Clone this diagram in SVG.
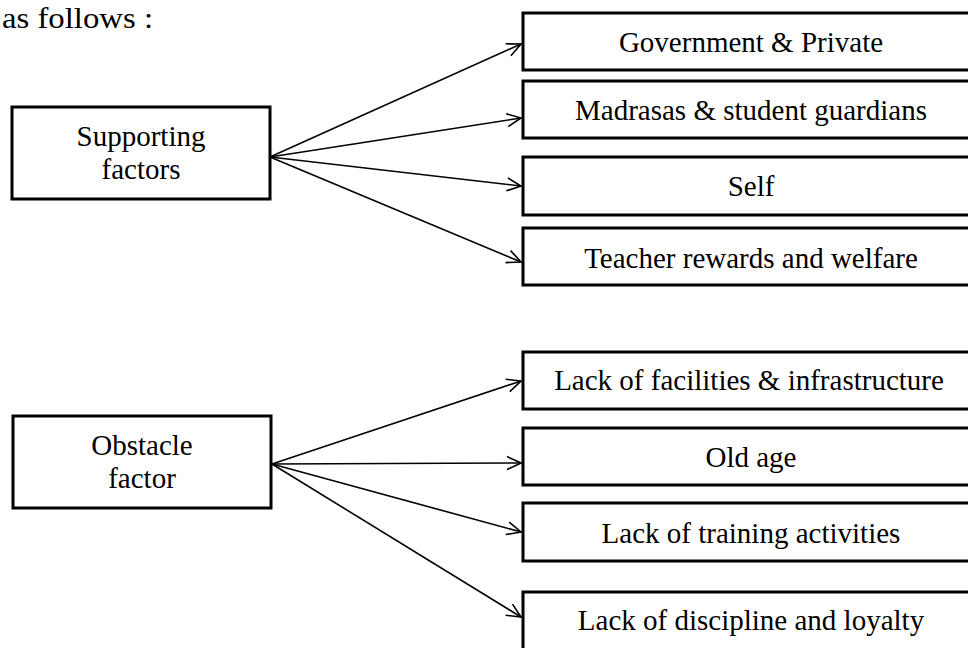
<svg xmlns="http://www.w3.org/2000/svg" width="968" height="648" viewBox="0 0 968 648">
  <style>
    .box { fill: #fff; stroke: #000; stroke-width: 3; }
    .lbl { font-family: "Liberation Serif", "Times New Roman", serif; font-size: 29px; fill: #000; text-anchor: middle; }
    .lead { font-family: "Liberation Serif", "Times New Roman", serif; font-size: 30px; fill: #000; }
    .conn { fill: none; stroke: #000; stroke-width: 1.6; marker-end: url(#arr); }
  </style>
  <defs>
    <marker id="arr" viewBox="-16 -8 17 16" refX="0" refY="0" markerWidth="17" markerHeight="16" orient="auto" markerUnits="userSpaceOnUse">
      <path d="M-14,-6.5 L0,0 L-14,6.5" fill="none" stroke="#000" stroke-width="1.6"/>
    </marker>
  </defs>
  <rect width="968" height="648" fill="#fff"/>

  <text class="lead" x="153" y="28" text-anchor="end" textLength="151" lengthAdjust="spacingAndGlyphs">as follows :</text>

  <!-- connectors -->
  <g id="connectors">
    <line class="conn" x1="270" y1="157" x2="521" y2="44"/>
    <line class="conn" x1="270" y1="157" x2="521" y2="118"/>
    <line class="conn" x1="270" y1="157" x2="521" y2="186"/>
    <line class="conn" x1="270" y1="157" x2="521" y2="262"/>
    <line class="conn" x1="272" y1="464" x2="521" y2="381"/>
    <line class="conn" x1="272" y1="464" x2="521" y2="463"/>
    <line class="conn" x1="272" y1="464" x2="521" y2="532"/>
    <line class="conn" x1="272" y1="464" x2="521" y2="617"/>
  </g>

  <!-- source nodes -->
  <g id="supporting">
    <rect class="box" x="12" y="107" width="258" height="92"/>
    <text class="lbl" x="141" y="146">Supporting</text>
    <text class="lbl" x="141" y="179">factors</text>
  </g>
  <g id="obstacle">
    <rect class="box" x="13" y="416" width="258" height="92"/>
    <text class="lbl" x="142" y="455">Obstacle</text>
    <text class="lbl" x="142" y="488">factor</text>
  </g>

  <!-- supporting factor targets -->
  <g id="gov-private">
    <rect class="box" x="523" y="13" width="470" height="57"/>
    <text class="lbl" x="751" y="52">Government &amp; Private</text>
  </g>
  <g id="madrasas">
    <rect class="box" x="523" y="81" width="470" height="57"/>
    <text class="lbl" x="751" y="120">Madrasas &amp; student guardians</text>
  </g>
  <g id="self">
    <rect class="box" x="523" y="157" width="470" height="58"/>
    <text class="lbl" x="751" y="196">Self</text>
  </g>
  <g id="teacher-rewards">
    <rect class="box" x="523" y="228" width="470" height="57"/>
    <text class="lbl" x="751" y="268">Teacher rewards and welfare</text>
  </g>

  <!-- obstacle factor targets -->
  <g id="facilities">
    <rect class="box" x="523" y="352" width="470" height="57"/>
    <text class="lbl" x="749" y="390">Lack of facilities &amp; infrastructure</text>
  </g>
  <g id="old-age">
    <rect class="box" x="523" y="428" width="470" height="57"/>
    <text class="lbl" x="751" y="467">Old age</text>
  </g>
  <g id="training">
    <rect class="box" x="523" y="503" width="470" height="58"/>
    <text class="lbl" x="751" y="543">Lack of training activities</text>
  </g>
  <g id="discipline">
    <rect class="box" x="523" y="592" width="470" height="58"/>
    <text class="lbl" x="751" y="630">Lack of discipline and loyalty</text>
  </g>
</svg>
